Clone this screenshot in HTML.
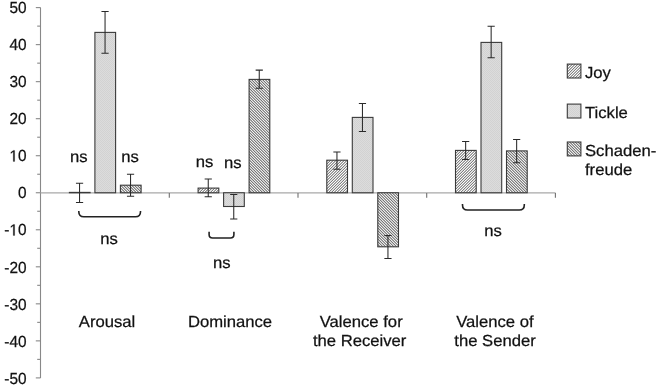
<!DOCTYPE html>
<html><head><meta charset="utf-8"><style>
html,body{margin:0;padding:0;background:#fff;}
svg{display:block;filter:grayscale(1);}
text{font-family:"Liberation Sans",sans-serif;fill:#111;stroke:#111;stroke-width:0.25px;text-rendering:geometricPrecision;}
</style></head><body>
<svg width="660" height="386" viewBox="0 0 660 386">
<defs>
<pattern id="pJoy" patternUnits="userSpaceOnUse" x="0" y="0" width="11" height="11"><rect x="0" y="0" width="1" height="1" fill="#939393"/><rect x="1" y="0" width="1" height="1" fill="#b7b7b7"/><rect x="2" y="0" width="1" height="1" fill="#fcfcfc"/><rect x="3" y="0" width="1" height="1" fill="#7e7e7e"/><rect x="4" y="0" width="1" height="1" fill="#dedede"/><rect x="5" y="0" width="1" height="1" fill="#dedede"/><rect x="6" y="0" width="1" height="1" fill="#7e7e7e"/><rect x="7" y="0" width="1" height="1" fill="#fcfcfc"/><rect x="8" y="0" width="1" height="1" fill="#b7b7b7"/><rect x="9" y="0" width="1" height="1" fill="#939393"/><rect x="10" y="0" width="1" height="1" fill="#ffffff"/><rect x="0" y="1" width="1" height="1" fill="#b7b7b7"/><rect x="1" y="1" width="1" height="1" fill="#fcfcfc"/><rect x="2" y="1" width="1" height="1" fill="#7e7e7e"/><rect x="3" y="1" width="1" height="1" fill="#dedede"/><rect x="4" y="1" width="1" height="1" fill="#dedede"/><rect x="5" y="1" width="1" height="1" fill="#7e7e7e"/><rect x="6" y="1" width="1" height="1" fill="#fcfcfc"/><rect x="7" y="1" width="1" height="1" fill="#b7b7b7"/><rect x="8" y="1" width="1" height="1" fill="#939393"/><rect x="9" y="1" width="1" height="1" fill="#ffffff"/><rect x="10" y="1" width="1" height="1" fill="#939393"/><rect x="0" y="2" width="1" height="1" fill="#fcfcfc"/><rect x="1" y="2" width="1" height="1" fill="#7e7e7e"/><rect x="2" y="2" width="1" height="1" fill="#dedede"/><rect x="3" y="2" width="1" height="1" fill="#dedede"/><rect x="4" y="2" width="1" height="1" fill="#7e7e7e"/><rect x="5" y="2" width="1" height="1" fill="#fcfcfc"/><rect x="6" y="2" width="1" height="1" fill="#b7b7b7"/><rect x="7" y="2" width="1" height="1" fill="#939393"/><rect x="8" y="2" width="1" height="1" fill="#ffffff"/><rect x="9" y="2" width="1" height="1" fill="#939393"/><rect x="10" y="2" width="1" height="1" fill="#b7b7b7"/><rect x="0" y="3" width="1" height="1" fill="#7e7e7e"/><rect x="1" y="3" width="1" height="1" fill="#dedede"/><rect x="2" y="3" width="1" height="1" fill="#dedede"/><rect x="3" y="3" width="1" height="1" fill="#7e7e7e"/><rect x="4" y="3" width="1" height="1" fill="#fcfcfc"/><rect x="5" y="3" width="1" height="1" fill="#b7b7b7"/><rect x="6" y="3" width="1" height="1" fill="#939393"/><rect x="7" y="3" width="1" height="1" fill="#ffffff"/><rect x="8" y="3" width="1" height="1" fill="#939393"/><rect x="9" y="3" width="1" height="1" fill="#b7b7b7"/><rect x="10" y="3" width="1" height="1" fill="#fcfcfc"/><rect x="0" y="4" width="1" height="1" fill="#dedede"/><rect x="1" y="4" width="1" height="1" fill="#dedede"/><rect x="2" y="4" width="1" height="1" fill="#7e7e7e"/><rect x="3" y="4" width="1" height="1" fill="#fcfcfc"/><rect x="4" y="4" width="1" height="1" fill="#b7b7b7"/><rect x="5" y="4" width="1" height="1" fill="#939393"/><rect x="6" y="4" width="1" height="1" fill="#ffffff"/><rect x="7" y="4" width="1" height="1" fill="#939393"/><rect x="8" y="4" width="1" height="1" fill="#b7b7b7"/><rect x="9" y="4" width="1" height="1" fill="#fcfcfc"/><rect x="10" y="4" width="1" height="1" fill="#7e7e7e"/><rect x="0" y="5" width="1" height="1" fill="#dedede"/><rect x="1" y="5" width="1" height="1" fill="#7e7e7e"/><rect x="2" y="5" width="1" height="1" fill="#fcfcfc"/><rect x="3" y="5" width="1" height="1" fill="#b7b7b7"/><rect x="4" y="5" width="1" height="1" fill="#939393"/><rect x="5" y="5" width="1" height="1" fill="#ffffff"/><rect x="6" y="5" width="1" height="1" fill="#939393"/><rect x="7" y="5" width="1" height="1" fill="#b7b7b7"/><rect x="8" y="5" width="1" height="1" fill="#fcfcfc"/><rect x="9" y="5" width="1" height="1" fill="#7e7e7e"/><rect x="10" y="5" width="1" height="1" fill="#dedede"/><rect x="0" y="6" width="1" height="1" fill="#7e7e7e"/><rect x="1" y="6" width="1" height="1" fill="#fcfcfc"/><rect x="2" y="6" width="1" height="1" fill="#b7b7b7"/><rect x="3" y="6" width="1" height="1" fill="#939393"/><rect x="4" y="6" width="1" height="1" fill="#ffffff"/><rect x="5" y="6" width="1" height="1" fill="#939393"/><rect x="6" y="6" width="1" height="1" fill="#b7b7b7"/><rect x="7" y="6" width="1" height="1" fill="#fcfcfc"/><rect x="8" y="6" width="1" height="1" fill="#7e7e7e"/><rect x="9" y="6" width="1" height="1" fill="#dedede"/><rect x="10" y="6" width="1" height="1" fill="#dedede"/><rect x="0" y="7" width="1" height="1" fill="#fcfcfc"/><rect x="1" y="7" width="1" height="1" fill="#b7b7b7"/><rect x="2" y="7" width="1" height="1" fill="#939393"/><rect x="3" y="7" width="1" height="1" fill="#ffffff"/><rect x="4" y="7" width="1" height="1" fill="#939393"/><rect x="5" y="7" width="1" height="1" fill="#b7b7b7"/><rect x="6" y="7" width="1" height="1" fill="#fcfcfc"/><rect x="7" y="7" width="1" height="1" fill="#7e7e7e"/><rect x="8" y="7" width="1" height="1" fill="#dedede"/><rect x="9" y="7" width="1" height="1" fill="#dedede"/><rect x="10" y="7" width="1" height="1" fill="#7e7e7e"/><rect x="0" y="8" width="1" height="1" fill="#b7b7b7"/><rect x="1" y="8" width="1" height="1" fill="#939393"/><rect x="2" y="8" width="1" height="1" fill="#ffffff"/><rect x="3" y="8" width="1" height="1" fill="#939393"/><rect x="4" y="8" width="1" height="1" fill="#b7b7b7"/><rect x="5" y="8" width="1" height="1" fill="#fcfcfc"/><rect x="6" y="8" width="1" height="1" fill="#7e7e7e"/><rect x="7" y="8" width="1" height="1" fill="#dedede"/><rect x="8" y="8" width="1" height="1" fill="#dedede"/><rect x="9" y="8" width="1" height="1" fill="#7e7e7e"/><rect x="10" y="8" width="1" height="1" fill="#fcfcfc"/><rect x="0" y="9" width="1" height="1" fill="#939393"/><rect x="1" y="9" width="1" height="1" fill="#ffffff"/><rect x="2" y="9" width="1" height="1" fill="#939393"/><rect x="3" y="9" width="1" height="1" fill="#b7b7b7"/><rect x="4" y="9" width="1" height="1" fill="#fcfcfc"/><rect x="5" y="9" width="1" height="1" fill="#7e7e7e"/><rect x="6" y="9" width="1" height="1" fill="#dedede"/><rect x="7" y="9" width="1" height="1" fill="#dedede"/><rect x="8" y="9" width="1" height="1" fill="#7e7e7e"/><rect x="9" y="9" width="1" height="1" fill="#fcfcfc"/><rect x="10" y="9" width="1" height="1" fill="#b7b7b7"/><rect x="0" y="10" width="1" height="1" fill="#ffffff"/><rect x="1" y="10" width="1" height="1" fill="#939393"/><rect x="2" y="10" width="1" height="1" fill="#b7b7b7"/><rect x="3" y="10" width="1" height="1" fill="#fcfcfc"/><rect x="4" y="10" width="1" height="1" fill="#7e7e7e"/><rect x="5" y="10" width="1" height="1" fill="#dedede"/><rect x="6" y="10" width="1" height="1" fill="#dedede"/><rect x="7" y="10" width="1" height="1" fill="#7e7e7e"/><rect x="8" y="10" width="1" height="1" fill="#fcfcfc"/><rect x="9" y="10" width="1" height="1" fill="#b7b7b7"/><rect x="10" y="10" width="1" height="1" fill="#939393"/></pattern>
<pattern id="pSch" patternUnits="userSpaceOnUse" x="0" y="0" width="11" height="11"><rect x="0" y="0" width="1" height="1" fill="#f6f6f6"/><rect x="1" y="0" width="1" height="1" fill="#898989"/><rect x="2" y="0" width="1" height="1" fill="#ababab"/><rect x="3" y="0" width="1" height="1" fill="#ececec"/><rect x="4" y="0" width="1" height="1" fill="#757575"/><rect x="5" y="0" width="1" height="1" fill="#cfcfcf"/><rect x="6" y="0" width="1" height="1" fill="#cfcfcf"/><rect x="7" y="0" width="1" height="1" fill="#757575"/><rect x="8" y="0" width="1" height="1" fill="#ececec"/><rect x="9" y="0" width="1" height="1" fill="#ababab"/><rect x="10" y="0" width="1" height="1" fill="#898989"/><rect x="0" y="1" width="1" height="1" fill="#898989"/><rect x="1" y="1" width="1" height="1" fill="#f6f6f6"/><rect x="2" y="1" width="1" height="1" fill="#898989"/><rect x="3" y="1" width="1" height="1" fill="#ababab"/><rect x="4" y="1" width="1" height="1" fill="#ececec"/><rect x="5" y="1" width="1" height="1" fill="#757575"/><rect x="6" y="1" width="1" height="1" fill="#cfcfcf"/><rect x="7" y="1" width="1" height="1" fill="#cfcfcf"/><rect x="8" y="1" width="1" height="1" fill="#757575"/><rect x="9" y="1" width="1" height="1" fill="#ececec"/><rect x="10" y="1" width="1" height="1" fill="#ababab"/><rect x="0" y="2" width="1" height="1" fill="#ababab"/><rect x="1" y="2" width="1" height="1" fill="#898989"/><rect x="2" y="2" width="1" height="1" fill="#f6f6f6"/><rect x="3" y="2" width="1" height="1" fill="#898989"/><rect x="4" y="2" width="1" height="1" fill="#ababab"/><rect x="5" y="2" width="1" height="1" fill="#ececec"/><rect x="6" y="2" width="1" height="1" fill="#757575"/><rect x="7" y="2" width="1" height="1" fill="#cfcfcf"/><rect x="8" y="2" width="1" height="1" fill="#cfcfcf"/><rect x="9" y="2" width="1" height="1" fill="#757575"/><rect x="10" y="2" width="1" height="1" fill="#ececec"/><rect x="0" y="3" width="1" height="1" fill="#ececec"/><rect x="1" y="3" width="1" height="1" fill="#ababab"/><rect x="2" y="3" width="1" height="1" fill="#898989"/><rect x="3" y="3" width="1" height="1" fill="#f6f6f6"/><rect x="4" y="3" width="1" height="1" fill="#898989"/><rect x="5" y="3" width="1" height="1" fill="#ababab"/><rect x="6" y="3" width="1" height="1" fill="#ececec"/><rect x="7" y="3" width="1" height="1" fill="#757575"/><rect x="8" y="3" width="1" height="1" fill="#cfcfcf"/><rect x="9" y="3" width="1" height="1" fill="#cfcfcf"/><rect x="10" y="3" width="1" height="1" fill="#757575"/><rect x="0" y="4" width="1" height="1" fill="#757575"/><rect x="1" y="4" width="1" height="1" fill="#ececec"/><rect x="2" y="4" width="1" height="1" fill="#ababab"/><rect x="3" y="4" width="1" height="1" fill="#898989"/><rect x="4" y="4" width="1" height="1" fill="#f6f6f6"/><rect x="5" y="4" width="1" height="1" fill="#898989"/><rect x="6" y="4" width="1" height="1" fill="#ababab"/><rect x="7" y="4" width="1" height="1" fill="#ececec"/><rect x="8" y="4" width="1" height="1" fill="#757575"/><rect x="9" y="4" width="1" height="1" fill="#cfcfcf"/><rect x="10" y="4" width="1" height="1" fill="#cfcfcf"/><rect x="0" y="5" width="1" height="1" fill="#cfcfcf"/><rect x="1" y="5" width="1" height="1" fill="#757575"/><rect x="2" y="5" width="1" height="1" fill="#ececec"/><rect x="3" y="5" width="1" height="1" fill="#ababab"/><rect x="4" y="5" width="1" height="1" fill="#898989"/><rect x="5" y="5" width="1" height="1" fill="#f6f6f6"/><rect x="6" y="5" width="1" height="1" fill="#898989"/><rect x="7" y="5" width="1" height="1" fill="#ababab"/><rect x="8" y="5" width="1" height="1" fill="#ececec"/><rect x="9" y="5" width="1" height="1" fill="#757575"/><rect x="10" y="5" width="1" height="1" fill="#cfcfcf"/><rect x="0" y="6" width="1" height="1" fill="#cfcfcf"/><rect x="1" y="6" width="1" height="1" fill="#cfcfcf"/><rect x="2" y="6" width="1" height="1" fill="#757575"/><rect x="3" y="6" width="1" height="1" fill="#ececec"/><rect x="4" y="6" width="1" height="1" fill="#ababab"/><rect x="5" y="6" width="1" height="1" fill="#898989"/><rect x="6" y="6" width="1" height="1" fill="#f6f6f6"/><rect x="7" y="6" width="1" height="1" fill="#898989"/><rect x="8" y="6" width="1" height="1" fill="#ababab"/><rect x="9" y="6" width="1" height="1" fill="#ececec"/><rect x="10" y="6" width="1" height="1" fill="#757575"/><rect x="0" y="7" width="1" height="1" fill="#757575"/><rect x="1" y="7" width="1" height="1" fill="#cfcfcf"/><rect x="2" y="7" width="1" height="1" fill="#cfcfcf"/><rect x="3" y="7" width="1" height="1" fill="#757575"/><rect x="4" y="7" width="1" height="1" fill="#ececec"/><rect x="5" y="7" width="1" height="1" fill="#ababab"/><rect x="6" y="7" width="1" height="1" fill="#898989"/><rect x="7" y="7" width="1" height="1" fill="#f6f6f6"/><rect x="8" y="7" width="1" height="1" fill="#898989"/><rect x="9" y="7" width="1" height="1" fill="#ababab"/><rect x="10" y="7" width="1" height="1" fill="#ececec"/><rect x="0" y="8" width="1" height="1" fill="#ececec"/><rect x="1" y="8" width="1" height="1" fill="#757575"/><rect x="2" y="8" width="1" height="1" fill="#cfcfcf"/><rect x="3" y="8" width="1" height="1" fill="#cfcfcf"/><rect x="4" y="8" width="1" height="1" fill="#757575"/><rect x="5" y="8" width="1" height="1" fill="#ececec"/><rect x="6" y="8" width="1" height="1" fill="#ababab"/><rect x="7" y="8" width="1" height="1" fill="#898989"/><rect x="8" y="8" width="1" height="1" fill="#f6f6f6"/><rect x="9" y="8" width="1" height="1" fill="#898989"/><rect x="10" y="8" width="1" height="1" fill="#ababab"/><rect x="0" y="9" width="1" height="1" fill="#ababab"/><rect x="1" y="9" width="1" height="1" fill="#ececec"/><rect x="2" y="9" width="1" height="1" fill="#757575"/><rect x="3" y="9" width="1" height="1" fill="#cfcfcf"/><rect x="4" y="9" width="1" height="1" fill="#cfcfcf"/><rect x="5" y="9" width="1" height="1" fill="#757575"/><rect x="6" y="9" width="1" height="1" fill="#ececec"/><rect x="7" y="9" width="1" height="1" fill="#ababab"/><rect x="8" y="9" width="1" height="1" fill="#898989"/><rect x="9" y="9" width="1" height="1" fill="#f6f6f6"/><rect x="10" y="9" width="1" height="1" fill="#898989"/><rect x="0" y="10" width="1" height="1" fill="#898989"/><rect x="1" y="10" width="1" height="1" fill="#ababab"/><rect x="2" y="10" width="1" height="1" fill="#ececec"/><rect x="3" y="10" width="1" height="1" fill="#757575"/><rect x="4" y="10" width="1" height="1" fill="#cfcfcf"/><rect x="5" y="10" width="1" height="1" fill="#cfcfcf"/><rect x="6" y="10" width="1" height="1" fill="#757575"/><rect x="7" y="10" width="1" height="1" fill="#ececec"/><rect x="8" y="10" width="1" height="1" fill="#ababab"/><rect x="9" y="10" width="1" height="1" fill="#898989"/><rect x="10" y="10" width="1" height="1" fill="#f6f6f6"/></pattern>
<pattern id="pTic" patternUnits="userSpaceOnUse" x="0" y="0" width="2" height="2"><rect width="2" height="2" fill="#dcdcdc"/><rect width="1" height="1" fill="#d2d2d2"/><rect x="1" y="1" width="1" height="1" fill="#d2d2d2"/></pattern>
</defs>
<rect width="660" height="386" fill="#fff"/>

<g stroke="#888" stroke-width="1.1" fill="none">
<line x1="40.5" y1="7.60" x2="40.5" y2="377.90"/>
<line x1="35.8" y1="377.90" x2="40.5" y2="377.90"/>
<line x1="37.2" y1="359.38" x2="40.5" y2="359.38"/>
<line x1="35.8" y1="340.87" x2="40.5" y2="340.87"/>
<line x1="37.2" y1="322.36" x2="40.5" y2="322.36"/>
<line x1="35.8" y1="303.84" x2="40.5" y2="303.84"/>
<line x1="37.2" y1="285.32" x2="40.5" y2="285.32"/>
<line x1="35.8" y1="266.81" x2="40.5" y2="266.81"/>
<line x1="37.2" y1="248.29" x2="40.5" y2="248.29"/>
<line x1="35.8" y1="229.78" x2="40.5" y2="229.78"/>
<line x1="37.2" y1="211.26" x2="40.5" y2="211.26"/>
<line x1="35.8" y1="192.75" x2="40.5" y2="192.75"/>
<line x1="37.2" y1="174.24" x2="40.5" y2="174.24"/>
<line x1="35.8" y1="155.72" x2="40.5" y2="155.72"/>
<line x1="37.2" y1="137.21" x2="40.5" y2="137.21"/>
<line x1="35.8" y1="118.69" x2="40.5" y2="118.69"/>
<line x1="37.2" y1="100.17" x2="40.5" y2="100.17"/>
<line x1="35.8" y1="81.66" x2="40.5" y2="81.66"/>
<line x1="37.2" y1="63.15" x2="40.5" y2="63.15"/>
<line x1="35.8" y1="44.63" x2="40.5" y2="44.63"/>
<line x1="37.2" y1="26.12" x2="40.5" y2="26.12"/>
<line x1="35.8" y1="7.60" x2="40.5" y2="7.60"/>
</g>
<line x1="40.5" y1="192.95" x2="555.6" y2="192.95" stroke="#a8a8a8" stroke-width="1.3"/>
<line x1="169.30" y1="192.95" x2="169.30" y2="197.65" stroke="#707070" stroke-width="1.1"/>
<line x1="298.00" y1="192.95" x2="298.00" y2="197.65" stroke="#707070" stroke-width="1.1"/>
<line x1="426.70" y1="192.95" x2="426.70" y2="197.65" stroke="#707070" stroke-width="1.1"/>
<line x1="555.40" y1="192.95" x2="555.40" y2="197.65" stroke="#707070" stroke-width="1.1"/>
<g font-size="16" text-anchor="end">
<text transform="translate(26.5,383.60) scale(0.96,1)">-50</text>
<text transform="translate(26.5,346.57) scale(0.96,1)">-40</text>
<text transform="translate(26.5,309.54) scale(0.96,1)">-30</text>
<text transform="translate(26.5,272.51) scale(0.96,1)">-20</text>
<text transform="translate(26.5,235.48) scale(0.96,1)">-<tspan style="fill:none;stroke:none">1</tspan>0</text>
<text transform="translate(26.5,198.45) scale(0.96,1)">0</text>
<text transform="translate(26.5,161.42) scale(0.96,1)"><tspan style="fill:none;stroke:none">1</tspan>0</text>
<text transform="translate(26.5,124.39) scale(0.96,1)">20</text>
<text transform="translate(26.5,87.36) scale(0.96,1)">30</text>
<text transform="translate(26.5,50.33) scale(0.96,1)">40</text>
<text transform="translate(26.5,13.30) scale(0.96,1)">50</text>
</g>
<path transform="translate(9.415,235.48) scale(0.007500,-0.007812)" d="M515,0L515,1237L197,1010L197,1180L530,1409L696,1409L696,0Z" style="fill:#111;stroke:#111;stroke-width:32"/>
<path transform="translate(9.415,161.42) scale(0.007500,-0.007812)" d="M515,0L515,1237L197,1010L197,1180L530,1409L696,1409L696,0Z" style="fill:#111;stroke:#111;stroke-width:32"/>
<rect x="69.40" y="192.40" width="20.70" height="0.35" fill="url(#pJoy)" stroke="#3a3a3a" stroke-width="1.1"/>
<rect x="94.90" y="32.40" width="20.70" height="160.35" fill="url(#pTic)" stroke="#3a3a3a" stroke-width="1.1"/>
<rect x="120.40" y="185.20" width="20.70" height="7.55" fill="url(#pSch)" stroke="#3a3a3a" stroke-width="1.1"/>
<rect x="198.10" y="188.10" width="20.70" height="4.65" fill="url(#pJoy)" stroke="#3a3a3a" stroke-width="1.1"/>
<rect x="223.60" y="192.75" width="20.70" height="13.75" fill="url(#pTic)" stroke="#3a3a3a" stroke-width="1.1"/>
<rect x="249.10" y="79.40" width="20.70" height="113.35" fill="url(#pSch)" stroke="#3a3a3a" stroke-width="1.1"/>
<rect x="326.80" y="160.20" width="20.70" height="32.55" fill="url(#pJoy)" stroke="#3a3a3a" stroke-width="1.1"/>
<rect x="352.30" y="117.40" width="20.70" height="75.35" fill="url(#pTic)" stroke="#3a3a3a" stroke-width="1.1"/>
<rect x="377.80" y="192.75" width="20.70" height="54.05" fill="url(#pSch)" stroke="#3a3a3a" stroke-width="1.1"/>
<rect x="455.50" y="150.40" width="20.70" height="42.35" fill="url(#pJoy)" stroke="#3a3a3a" stroke-width="1.1"/>
<rect x="481.00" y="42.40" width="20.70" height="150.35" fill="url(#pTic)" stroke="#3a3a3a" stroke-width="1.1"/>
<rect x="506.50" y="150.90" width="20.70" height="41.85" fill="url(#pSch)" stroke="#3a3a3a" stroke-width="1.1"/>
<g stroke="#2a2a2a" stroke-width="1.05" fill="none">
<path d="M79.55,183.30V202.40M75.95,183.30H83.15M75.95,202.40H83.15"/>
<path d="M105.05,11.50V53.20M101.45,11.50H108.65M101.45,53.20H108.65"/>
<path d="M130.55,174.20V196.30M126.95,174.20H134.15M126.95,196.30H134.15"/>
<path d="M208.25,179.00V196.70M204.65,179.00H211.85M204.65,196.70H211.85"/>
<path d="M233.75,194.40V219.00M230.15,194.40H237.35M230.15,219.00H237.35"/>
<path d="M259.25,70.10V88.30M255.65,70.10H262.85M255.65,88.30H262.85"/>
<path d="M336.95,152.00V169.20M333.35,152.00H340.55M333.35,169.20H340.55"/>
<path d="M362.45,103.40V131.50M358.85,103.40H366.05M358.85,131.50H366.05"/>
<path d="M387.95,235.40V258.40M384.35,235.40H391.55M384.35,258.40H391.55"/>
<path d="M465.65,141.40V159.40M462.05,141.40H469.25M462.05,159.40H469.25"/>
<path d="M491.15,26.20V57.70M487.55,26.20H494.75M487.55,57.70H494.75"/>
<path d="M516.65,139.40V162.70M513.05,139.40H520.25M513.05,162.70H520.25"/>
</g>
<g stroke="#222" stroke-width="1.6" fill="none">
<path d="M78.80,211.00 V211.80 Q78.80,216.80 83.80,216.80 H135.50 Q140.50,216.80 140.50,211.80 V211.00"/>
<path d="M209.10,231.70 V234.50 Q209.10,238.00 212.60,238.00 H230.40 Q233.90,238.00 233.90,234.50 V231.70"/>
<path d="M462.50,203.90 V205.00 Q462.50,210.00 467.50,210.00 H519.30 Q524.30,210.00 524.30,205.00 V203.90"/>
</g>
<g font-size="16">
<text transform="translate(78.70,162.10) scale(1.040,1)" text-anchor="middle">ns</text>
<text transform="translate(130.00,162.10) scale(1.040,1)" text-anchor="middle">ns</text>
<text transform="translate(204.60,166.60) scale(1.040,1)" text-anchor="middle">ns</text>
<text transform="translate(232.90,167.50) scale(1.040,1)" text-anchor="middle">ns</text>
<text transform="translate(109.00,244.00) scale(1.040,1)" text-anchor="middle">ns</text>
<text transform="translate(221.80,267.70) scale(1.040,1)" text-anchor="middle">ns</text>
<text transform="translate(493.00,236.30) scale(1.040,1)" text-anchor="middle">ns</text>
<text transform="translate(107.00,327.20) scale(1.040,1)" text-anchor="middle">Arousal</text>
<text transform="translate(230.00,327.00) scale(1.040,1)" text-anchor="middle">Dominance</text>
<text transform="translate(361.20,326.80) scale(1.040,1)" text-anchor="middle">Valence for</text>
<text transform="translate(359.60,346.30) scale(1.040,1)" text-anchor="middle">the Receiver</text>
<text transform="translate(494.90,326.80) scale(1.040,1)" text-anchor="middle">Valence of</text>
<text transform="translate(495.00,346.30) scale(1.040,1)" text-anchor="middle">the Sender</text>
<text transform="translate(585.00,77.90) scale(1.040,1)" text-anchor="start">Joy</text>
<text transform="translate(585.00,117.80) scale(1.040,1)" text-anchor="start">Tickle</text>
<text transform="translate(585.00,156.00) scale(1.040,1)" text-anchor="start">Schaden-</text>
<text transform="translate(585.00,175.00) scale(1.040,1)" text-anchor="start">freude</text>
</g>
<rect x="567.3" y="64.10" width="13.6" height="13.9" fill="url(#pJoy)" stroke="#3a3a3a" stroke-width="1.1"/>
<rect x="567.3" y="104.10" width="13.6" height="13.9" fill="url(#pTic)" stroke="#3a3a3a" stroke-width="1.1"/>
<rect x="567.3" y="142.00" width="13.6" height="13.9" fill="url(#pSch)" stroke="#3a3a3a" stroke-width="1.1"/>
</svg>
</body></html>
